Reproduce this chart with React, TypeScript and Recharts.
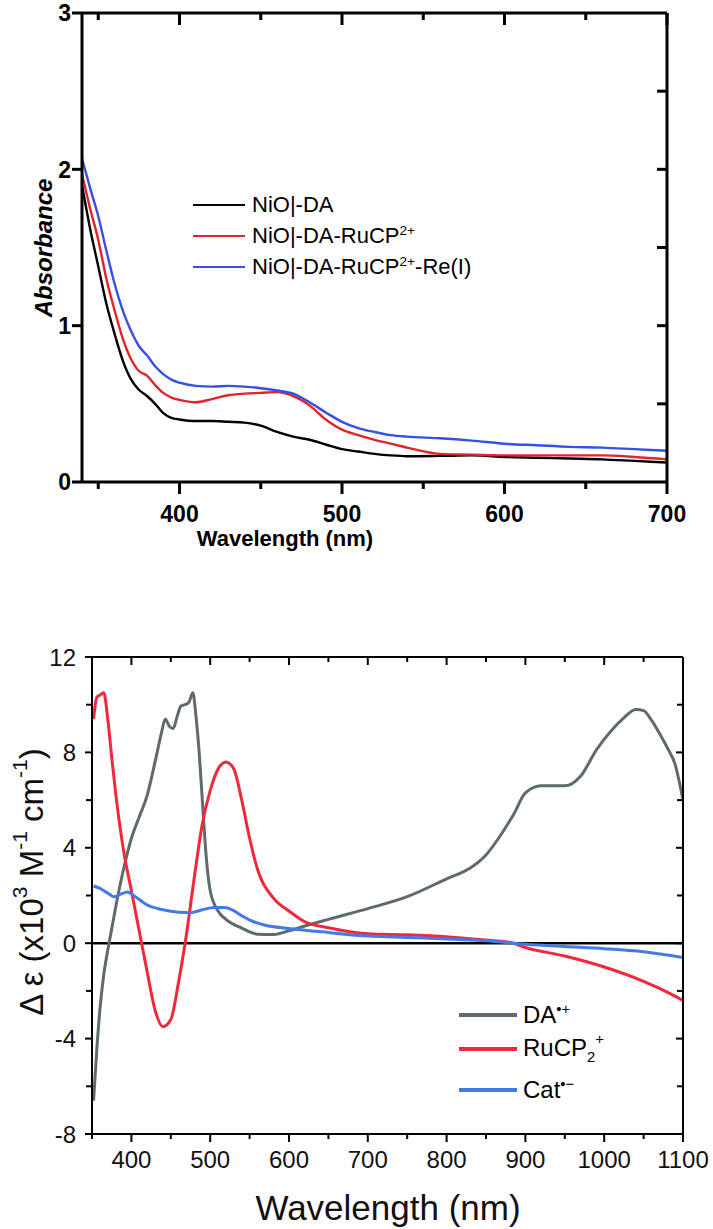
import React from 'react';
import { LineChart, Line, XAxis, YAxis, ReferenceLine, Legend, Label } from 'recharts';

const FONT = '"Liberation Sans", Arial, Helvetica, sans-serif';

// ---- top panel: absorbance of the films ----
const absWl = [340, 345, 350, 355, 360, 365, 370, 375, 380, 385, 390, 395, 400, 410, 420, 430, 440, 450, 460, 470, 480, 490, 500, 510, 520, 530, 540, 560, 580, 600, 620, 640, 660, 680, 700];
const absDA = [1.9, 1.62, 1.38, 1.14, 0.95, 0.78, 0.66, 0.59, 0.55, 0.5, 0.44, 0.41, 0.4, 0.39, 0.39, 0.385, 0.38, 0.36, 0.32, 0.29, 0.27, 0.24, 0.21, 0.195, 0.18, 0.17, 0.165, 0.167, 0.17, 0.16, 0.155, 0.15, 0.145, 0.135, 0.125];
const absDARu = [1.97, 1.75, 1.55, 1.3, 1.1, 0.92, 0.79, 0.71, 0.68, 0.62, 0.57, 0.54, 0.525, 0.51, 0.53, 0.555, 0.565, 0.57, 0.575, 0.55, 0.49, 0.4, 0.335, 0.3, 0.27, 0.245, 0.22, 0.18, 0.175, 0.17, 0.17, 0.17, 0.17, 0.16, 0.145];
const absDARuRe = [2.07, 1.88, 1.7, 1.48, 1.27, 1.1, 0.97, 0.87, 0.81, 0.74, 0.69, 0.655, 0.635, 0.615, 0.61, 0.615, 0.61, 0.6, 0.585, 0.565, 0.51, 0.445, 0.385, 0.345, 0.32, 0.3, 0.29, 0.28, 0.265, 0.245, 0.235, 0.225, 0.22, 0.21, 0.2];

const absXDomain = [340, 700];
const absXTicks = [400, 500, 600, 700];
const absXMinor = [350, 450, 550, 650];
const absYTicks = [0, 1, 2, 3];
const absYRight = [0.5, 1, 1.5, 2, 2.5];

// ---- bottom panel: difference spectra ----
const daWl = [352, 356, 360, 365, 370, 375, 380, 390, 400, 410, 420, 430, 438, 443, 448, 453, 458, 463, 468, 473, 478, 482, 486, 490, 495, 500, 510, 520, 540, 560, 580, 600, 620, 650, 700, 750, 800, 830, 850, 870, 885, 900, 920, 950, 970, 990, 1010, 1025, 1040, 1050, 1060, 1070, 1080, 1090, 1100];
const daEps = [-6.6, -4.5, -2.8, -1.3, -0.3, 0.6, 1.5, 3.1, 4.4, 5.3, 6.2, 7.6, 8.8, 9.4, 9.1, 9.0, 9.5, 9.95, 10.0, 10.1, 10.5, 9.5, 8.0, 6.0, 3.6, 2.2, 1.35, 1.0, 0.63, 0.38, 0.36, 0.52, 0.72, 1.0, 1.45, 1.95, 2.7, 3.15, 3.7, 4.6, 5.4, 6.3, 6.6, 6.6, 7.0, 8.1, 8.95, 9.45, 9.8, 9.75, 9.35, 8.8, 8.2, 7.5, 6.0];

const ruWl = [352, 356, 360, 365, 370, 375, 380, 390, 400, 410, 420, 430, 440, 450, 460, 470, 480, 490, 500, 510, 520, 530, 540, 550, 560, 580, 600, 620, 650, 700, 750, 800, 850, 880, 900, 950, 1000, 1050, 1080, 1100];
const ruEps = [9.4, 10.3, 10.4, 10.5, 9.4, 7.8, 6.3, 3.9, 2.2, 0.5, -1.2, -2.8, -3.5, -3.2, -1.6, 0.4, 2.8, 5.0, 6.4, 7.3, 7.6, 7.3, 6.0, 4.4, 3.1, 1.9, 1.35, 0.9, 0.65, 0.4, 0.35, 0.27, 0.13, 0.04, -0.18, -0.54, -1.0, -1.6, -2.05, -2.4];

const catWl = [352, 360, 370, 378, 386, 395, 405, 420, 440, 460, 475, 490, 505, 518, 528, 540, 555, 570, 600, 650, 700, 750, 800, 850, 900, 950, 1000, 1050, 1100];
const catEps = [2.4, 2.3, 2.1, 1.95, 2.05, 2.15, 1.95, 1.6, 1.4, 1.3, 1.28, 1.4, 1.5, 1.5, 1.4, 1.15, 0.9, 0.75, 0.62, 0.45, 0.3, 0.24, 0.18, 0.1, -0.04, -0.14, -0.23, -0.36, -0.6];

const epsXDomain = [350, 1100];
const epsXTicks = [400, 500, 600, 700, 800, 900, 1000, 1100];
const epsXMinor = [350, 450, 550, 650, 750, 850, 950, 1050];
const epsYTicks = [-8, -4, 0, 4, 8, 12];
const epsYMinor = [-6, -2, 2, 6, 10];

const pairs = (xs: number[], ys: number[]) => xs.map((x, i) => ({ x, y: ys[i] }));

const absSeries = [
  { key: 'da', data: pairs(absWl, absDA), color: '#000000' },
  { key: 'daru', data: pairs(absWl, absDARu), color: '#e3232b' },
  { key: 'darure', data: pairs(absWl, absDARuRe), color: '#3550e2' },
];

const epsSeries = [
  { key: 'da', data: pairs(daWl, daEps), color: '#5f6a6c' },
  { key: 'ru', data: pairs(ruWl, ruEps), color: '#f0283e' },
  { key: 'cat', data: pairs(catWl, catEps), color: '#4479e8' },
];

const sup = (s: string) => (
  <sup style={{ fontSize: '0.62em', verticalAlign: 'super', lineHeight: 0 }}>{s}</sup>
);
const sub = (s: string) => (
  <sub style={{ fontSize: '0.62em', verticalAlign: 'sub', lineHeight: 0 }}>{s}</sub>
);

const absLegend = [
  { y: 205, color: '#000000', label: <>NiO|-DA</> },
  { y: 236, color: '#e3232b', label: <>NiO|-DA-RuCP{sup('2+')}</> },
  { y: 267, color: '#3550e2', label: <>NiO|-DA-RuCP{sup('2+')}-Re(I)</> },
];

const epsLegend = [
  { y: 455, color: '#5f6a6c', label: <>DA{sup('•+')}</> },
  { y: 489, color: '#f0283e', label: <>RuCP{sub('2')}<span style={{ position: 'relative', top: -12, fontSize: '0.62em' }}>+</span></> },
  { y: 530, color: '#4479e8', label: <>Cat{sup('•−')}</> },
];

function LegendRows({ rows, x1, x2, tx, fontSize, lw }: any) {
  return (
    <div style={{ position: 'relative', width: 713, height: 10 }}>
      {rows.map((r: any, i: number) => (
        <div key={i} style={{ position: 'absolute', left: x1, top: r.y - 16, height: 32, display: 'flex', alignItems: 'center' }}>
          <span style={{ display: 'inline-block', width: x2 - x1, height: lw, background: r.color }} />
          <span style={{ marginLeft: tx - x2, fontSize, fontFamily: FONT, color: '#000', lineHeight: '32px', whiteSpace: 'nowrap' }}>
            {r.label}
          </span>
        </div>
      ))}
    </div>
  );
}

// x-axis title plus the short vertical tick marks (bottom: outward, top: inward),
// placed along the axis box that Recharts hands to the label
function XDecor({ viewBox, domain, major, minor, majLen, minLen, sw, plotTop, title }: any) {
  const vb = viewBox || {};
  const x0 = Number(vb.x);
  const w = Number(vb.width);
  const yb = Number(vb.y);
  const px = (v: number) => x0 + ((v - domain[0]) / (domain[1] - domain[0])) * w;
  const marks = [
    ...major.map((v: number) => ({ v, len: majLen })),
    ...minor.map((v: number) => ({ v, len: minLen })),
  ];
  return (
    <g>
      {marks.map((m: any, i: number) => (
        <path key={i} d={`M${px(m.v)},${yb} v${m.len} M${px(m.v)},${plotTop} v${m.len}`} stroke="#000" strokeWidth={sw} fill="none" />
      ))}
      {title}
    </g>
  );
}

const xLabel = (label: any, gap: number) => (p: any) => (
  <text x={p.x} y={Number(p.y) + gap} dy="0.71em" textAnchor="middle" {...label}>{p.payload.value}</text>
);
const tickLeft = (len: number, sw: number, label?: any, gap = 0) => (p: any) => (
  <g>
    <rect x={Number(p.x) - len} y={Number(p.y) - sw / 2} width={len} height={sw} fill="#000" />
    {label && (
      <text x={Number(p.x) - len - gap} y={p.y} dy="0.36em" textAnchor="end" {...label}>{p.payload.value}</text>
    )}
  </g>
);

const ax1 = { stroke: '#000', strokeWidth: 3 };
const ax2 = { stroke: '#000', strokeWidth: 2 };
const lab1 = { fill: '#000', fontSize: 23, fontWeight: 700, fontFamily: FONT };
const lab2 = { fill: '#111', fontSize: 24, fontFamily: FONT };

const common = { interval: 0 as const, allowDataOverflow: true, tickSize: 0, tickMargin: 0, tickLine: false, type: 'number' as const };

export default function App() {
  return (
    <div style={{ position: 'absolute', left: 0, top: 0, width: 713, height: 1229, background: '#fff' }}>
      {/* Absorbance panel */}
      <div style={{ position: 'absolute', left: 0, top: 0 }}>
        <LineChart width={713} height={560} margin={{ top: 13, right: 46, bottom: 77, left: 81 }}>
          <XAxis xAxisId="b" dataKey="x" domain={absXDomain} ticks={absXTicks} height={1} axisLine={ax1}
            tick={xLabel(lab1, 24)} {...common}>
            <Label content={(lp: any) => (
              <XDecor viewBox={lp.viewBox} domain={absXDomain} major={absXTicks} minor={absXMinor} majLen={12} minLen={7} sw={3} plotTop={13}
                title={
                  <text x={285} y={538} textAnchor="middle" dominantBaseline="central" fontFamily={FONT} fontSize={22} fontWeight={700} fill="#000">
                    Wavelength (nm)
                  </text>
                } />
            )} />
          </XAxis>
          <XAxis xAxisId="t" orientation="top" mirror domain={absXDomain} ticks={absXTicks} height={1} axisLine={ax1}
            tick={false} {...common} />
          <YAxis yAxisId="l" domain={[0, 3]} ticks={absYTicks} width={1} axisLine={ax1}
            tick={tickLeft(10, 3, lab1, 1)} {...common}>
            <Label content={() => (
              <text x={43} y={248} transform="rotate(-90 43 248)" textAnchor="middle" dominantBaseline="central" fontFamily={FONT} fontSize={24} fontWeight={700} fontStyle="italic" fill="#000">
                Absorbance
              </text>
            )} />
          </YAxis>
          <YAxis yAxisId="r" orientation="right" mirror domain={[0, 3]} ticks={absYRight} width={1} axisLine={ax1}
            tick={tickLeft(10, 3)} {...common} />
          {absSeries.map(s => (
            <Line key={s.key} xAxisId="b" yAxisId="l" data={s.data} dataKey="y" type="monotone" stroke={s.color}
              strokeWidth={2.4} dot={false} activeDot={false} isAnimationActive={false} />
          ))}
          <Legend layout="vertical" align="center" verticalAlign="middle"
            wrapperStyle={{ left: 0, top: 0, width: 713 }}
            content={() => <LegendRows rows={absLegend} x1={193} x2={245} tx={252} fontSize={22} lw={2.5} />} />
        </LineChart>
      </div>

      {/* Difference spectra panel */}
      <div style={{ position: 'absolute', left: 0, top: 560 }}>
        <LineChart width={713} height={669} margin={{ top: 97, right: 30, bottom: 94, left: 90 }}>
          <XAxis xAxisId="b" dataKey="x" domain={epsXDomain} ticks={epsXTicks} height={1} axisLine={ax2}
            tick={xLabel(lab2, 17)} {...common}>
            <Label content={(lp: any) => (
              <XDecor viewBox={lp.viewBox} domain={epsXDomain} major={epsXTicks} minor={epsXMinor} majLen={8} minLen={5} sw={2} plotTop={97}
                title={
                  <text x={388} y={647} textAnchor="middle" dominantBaseline="central" fontFamily={FONT} fontSize={35} fill="#111">
                    Wavelength (nm)
                  </text>
                } />
            )} />
          </XAxis>
          <XAxis xAxisId="t" orientation="top" mirror domain={epsXDomain} ticks={epsXTicks} height={1} axisLine={ax2}
            tick={false} {...common} />
          <YAxis yAxisId="l" domain={[-8, 12]} ticks={epsYTicks} width={1} axisLine={ax2}
            tick={tickLeft(7, 2, lab2, 9)} {...common}>
            <Label content={() => (
              <text x={31} y={322} transform="rotate(-90 31 322)" textAnchor="middle" dominantBaseline="central" fontFamily={FONT} fontSize={33} fill="#111">
                Δ ε (x10<tspan dy={-12} fontSize={21}>3</tspan><tspan dy={12}> M</tspan><tspan dy={-12} fontSize={21}>-1</tspan><tspan dy={12}> cm</tspan><tspan dy={-12} fontSize={21}>-1</tspan><tspan dy={12}>)</tspan>
              </text>
            )} />
          </YAxis>
          <YAxis yAxisId="lm" domain={[-8, 12]} ticks={epsYMinor} width={1} axisLine={false}
            tick={tickLeft(5, 2)} {...common} />
          <YAxis yAxisId="r" orientation="right" mirror domain={[-8, 12]} ticks={epsYTicks} width={1} axisLine={ax2}
            tick={tickLeft(7, 2)} {...common} />
          <YAxis yAxisId="rm" orientation="right" mirror domain={[-8, 12]} ticks={epsYMinor} width={1} axisLine={false}
            tick={tickLeft(5, 2)} {...common} />
          <ReferenceLine xAxisId="b" yAxisId="l" y={0} stroke="#000" strokeWidth={2.5} />
          {epsSeries.map(s => (
            <Line key={s.key} xAxisId="b" yAxisId="l" data={s.data} dataKey="y" type="monotone" stroke={s.color}
              strokeWidth={3} dot={false} activeDot={false} isAnimationActive={false} />
          ))}
          <Legend layout="vertical" align="center" verticalAlign="middle"
            wrapperStyle={{ left: 0, top: 0, width: 713 }}
            content={() => <LegendRows rows={epsLegend} x1={459} x2={517} tx={523} fontSize={24} lw={4} />} />
        </LineChart>
      </div>
    </div>
  );
}
